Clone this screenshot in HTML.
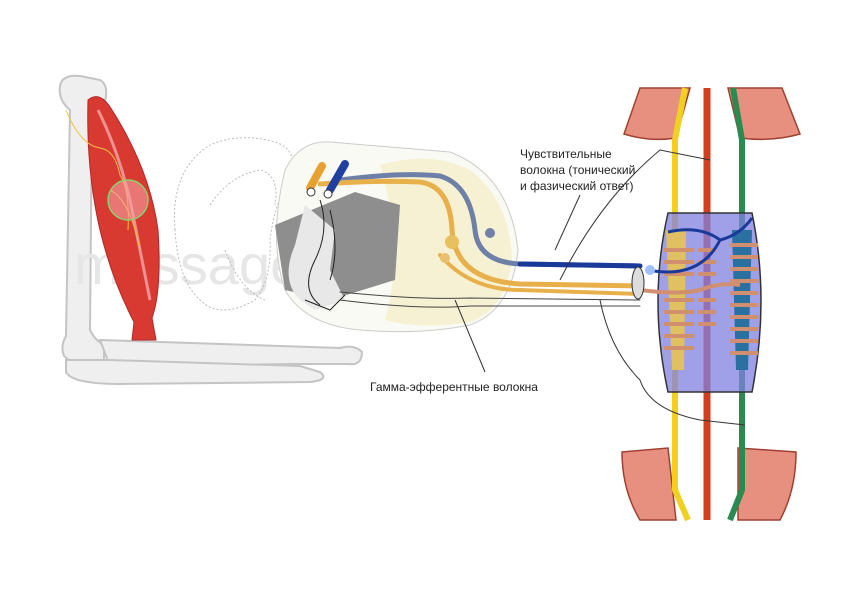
<!DOCTYPE html>
<html><head><meta charset="utf-8"><style>
body{margin:0;background:#fff;width:851px;height:600px;overflow:hidden}
text{font-family:"Liberation Sans",sans-serif;font-size:12px;fill:#222}
</style></head><body>
<svg width="851" height="600" viewBox="0 0 851 600" xmlns="http://www.w3.org/2000/svg">
<!-- arm bones -->
<g fill="#efefef" stroke="#c4c4c4" stroke-width="2">
<path d="M60 86 Q62 74 80 76 L100 80 Q110 86 104 104 L92 110 L90 330 Q96 342 104 344 L104 362 Q90 370 76 366 L64 356 Q60 346 66 336 L70 110 Q58 100 60 86Z"/>
<path d="M100 340 L340 348 Q354 344 362 352 Q362 366 348 364 L300 364 L110 366 Z"/>
<path d="M66 360 L110 360 L300 366 L320 372 Q330 380 310 382 L120 384 Q72 384 66 372Z"/>
</g>
<!-- watermark -->
<text x="74" y="284" style="font-size:56px;fill:#e6e6e6">massage.ru</text>
<!-- muscle -->
<path d="M88 100 Q100 90 112 110 Q150 170 158 230 Q162 290 152 318 L156 340 L132 340 L134 322 Q112 280 100 230 Q86 170 88 100Z" fill="#d83a32" stroke="#b02828"/>
<path d="M98 110 Q118 150 130 200 L150 300" stroke="#f09090" stroke-width="3" fill="none"/>
<path d="M66 110 Q80 145 100 148 Q115 150 120 175 Q130 190 128 230 M110 190 Q130 200 140 250" stroke="#f0c040" fill="none" stroke-width="1"/>
<circle cx="128" cy="200" r="20" fill="#f4a0a0" fill-opacity=".6" stroke="#8ccf6a" stroke-width="1.5"/>
<!-- dotted spinal cord outline -->
<path d="M175 230 Q170 170 210 145 Q240 132 275 142 Q300 150 290 180 Q275 200 270 240 Q272 280 255 300 Q220 320 200 300 Q178 280 175 230Z" fill="none" stroke="#bbb" stroke-dasharray="2 2"/>
<path d="M210 205 Q230 175 260 170 Q280 175 275 205 M225 250 Q240 290 265 300" fill="none" stroke="#bbb" stroke-dasharray="2 2"/>
<!-- spinal section -->
<path d="M285 170 Q300 140 330 142 L450 152 Q510 175 518 250 Q512 310 470 325 Q420 335 360 330 Q305 325 285 290 Q268 240 285 170Z" fill="#fafaf4" stroke="#ccc"/>
<path d="M380 165 Q430 150 470 170 Q510 200 512 260 Q505 310 470 322 Q420 330 385 320 Q405 250 380 165Z" fill="#f6f1d2"/>
<path d="M275 225 L355 192 L400 205 L395 280 L330 300 L285 290Z" fill="#8e8e8e"/>
<path d="M305 205 L295 245 Q280 280 300 300 L315 310 L345 300 L330 270 L335 230Z" fill="#e8e8e8"/>
<path d="M320 200 Q330 230 315 260 Q300 290 320 305 M330 210 Q340 250 330 280 M305 300 L330 310 L345 295" fill="none" stroke="#222" stroke-width="1"/>
<!-- nerve fibers -->
<g fill="none" stroke-linecap="round">
<path d="M340 180 Q400 172 440 176 Q470 185 475 230 Q478 262 520 264 L640 266" stroke="#6f80a8" stroke-width="5"/>
<path d="M520 264 L640 266" stroke="#1a3a9a" stroke-width="5"/>
<path d="M320 184 Q380 180 420 182 Q450 186 452 230 Q455 280 520 284 L640 286" stroke="#e8b04a" stroke-width="5"/>
<path d="M440 255 Q470 290 520 290 L640 294" stroke="#e8b04a" stroke-width="4"/>
<path d="M340 292 Q420 300 470 298 L640 300" stroke="#444" stroke-width="1"/>
<path d="M340 300 Q420 310 470 306 L640 306" stroke="#444" stroke-width="1"/>
<path d="M310 188 L322 166" stroke="#e8a030" stroke-width="8"/>
<path d="M330 190 L345 164" stroke="#2040a0" stroke-width="8"/>
</g>
<circle cx="311" cy="192" r="4" fill="#fff" stroke="#333"/>
<circle cx="328" cy="194" r="4" fill="#fff" stroke="#333"/>
<circle cx="452" cy="242" r="7" fill="#e8c060"/>
<circle cx="445" cy="258" r="5" fill="#e8c070"/>
<circle cx="490" cy="233" r="5" fill="#7080a8"/>
<!-- muscle caps -->
<g fill="#e89080" stroke="#a04030" stroke-width="1.5">
<path d="M640 88 L690 88 L676 138 Q650 142 624 134Z"/>
<path d="M728 88 L782 88 L800 134 Q772 142 740 138Z"/>
<path d="M622 452 L668 448 L676 520 L640 520 Q622 490 622 452Z"/>
<path d="M738 448 L796 452 Q796 490 780 520 L738 520Z"/>
</g>
<!-- vertical fibers -->
<path d="M685 88 L675 140 L675 490 L688 520" stroke="#f0d020" stroke-width="6" fill="none"/>
<path d="M707 88 L707 520" stroke="#d04020" stroke-width="7" fill="none"/>
<path d="M733 88 L742 140 L742 490 L730 520" stroke="#2a8a50" stroke-width="6" fill="none"/>
<!-- spindle -->
<path d="M668 213 L752 213 Q770 300 752 392 L668 392 Q648 300 668 213Z" fill="#8080e0" fill-opacity=".75" stroke="#333" stroke-width="1.5"/>
<path d="M666 230 L686 230 L684 370 L672 370Z" fill="#e0c060"/>
<path d="M732 230 L752 230 L748 370 L736 370Z" fill="#2a70a0"/>
<g stroke="#d09070" stroke-width="4" fill="none">
<path d="M664 250 h30 M664 262 h30 M664 274 h30 M664 300 h30 M664 312 h30 M664 324 h30 M664 336 h30 M664 348 h30"/>
<path d="M730 245 h28 M730 257 h28 M730 269 h28 M730 281 h28 M730 293 h28 M730 305 h28 M730 317 h28 M730 329 h28 M730 341 h28 M730 353 h28"/>
<path d="M698 250 h18 M698 262 h18 M698 274 h18 M698 300 h18 M698 312 h18 M698 324 h18"/>
<path d="M640 290 Q680 295 700 290 Q720 282 740 285"/>
</g>
<path d="M648 270 Q700 280 720 240 Q700 225 668 232 M720 240 Q740 235 752 218" stroke="#1a3a9a" stroke-width="3" fill="none"/>
<ellipse cx="638" cy="283" rx="6" ry="16" fill="#ddd" stroke="#333"/>
<circle cx="650" cy="270" r="5" fill="#a0c0ff"/>
<!-- thin nerves -->
<g stroke="#333" fill="none" stroke-width="1">
<path d="M600 300 Q610 350 640 380 Q650 410 700 420 L745 425"/>
<path d="M560 280 Q600 200 660 150 L710 160"/>
<path d="M455 300 L485 372"/>
<path d="M555 250 L580 195"/>
</g>
<text x="520" y="158">Чувствительные</text>
<text x="520" y="174">волокна (тонический</text>
<text x="520" y="190">и фазический ответ)</text>
<text x="370" y="391">Гамма-эфферентные волокна</text>
</svg>
</body></html>
